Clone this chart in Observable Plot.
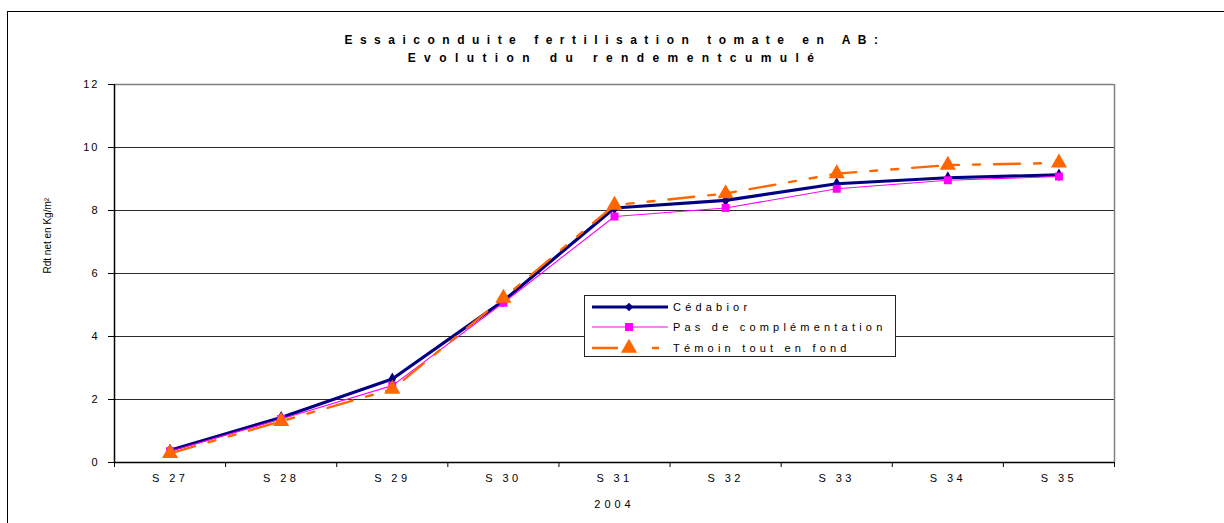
<!DOCTYPE html>
<html>
<head>
<meta charset="utf-8">
<script src="https://cdn.jsdelivr.net/npm/d3@7"></script>
<script src="https://cdn.jsdelivr.net/npm/@observablehq/plot@0.6"></script>
<style>
  html, body { margin: 0; padding: 0; background: #fff; }
  #wrap { position: relative; width: 1224px; height: 523px; overflow: hidden; font-family: "Liberation Sans", Arial, sans-serif; }
  #border { position: absolute; left: 7px; top: 11px; width: 1260px; height: 560px; border: 1.5px solid #000; box-sizing: border-box; }
  .title { position: absolute; left: 0; width: 1230px; text-align: center; font-weight: bold; font-size: 12px; color: #000; white-space: nowrap; }
  #legend { position: absolute; left: 584px; top: 295px; width: 312px; height: 62px; border: 1px solid #222; box-sizing: border-box; background: #fff; }
  .lrow { position: absolute; left: 7px; height: 20px; display: flex; align-items: center; white-space: nowrap; }
  .lrow span { font-size: 11px; letter-spacing: 4.2px; margin-left: 5px; color: #000; white-space: nowrap; }
  svg.plot text { font-family: "Liberation Sans", Arial, sans-serif; }
  g[aria-label="y-axis tick label"] text { letter-spacing: 2px; }
  g[aria-label="x-axis tick label"] text { letter-spacing: 3.4px; }
</style>
</head>
<body>
<div id="wrap">
  <div id="border"></div>
  <div id="chart"></div>
  <div class="title" id="t1" style="top:33px; letter-spacing:7.5px"></div>
  <div class="title" id="t2" style="top:51px; letter-spacing:8.4px"></div>
  <div id="legend"></div>
</div>
<script>
const titleLines = ["Essaiconduite fertilisation tomate en AB:", "Evolution du rendementcumulé"];
const categories = ["S 27", "S 28", "S 29", "S 30", "S 31", "S 32", "S 33", "S 34", "S 35"];
const seriesNames = ["Cédabior", "Pas de complémentation", "Témoin tout en fond"];
const cedabior = [0.39, 1.43, 2.65, 5.13, 8.08, 8.32, 8.85, 9.04, 9.13];
const pasCompl = [0.36, 1.38, 2.44, 5.07, 7.81, 8.08, 8.69, 8.96, 9.08];
const temoin   = [0.29, 1.31, 2.33, 5.22, 8.17, 8.54, 9.17, 9.44, 9.51];
const yTicks = [0, 2, 4, 6, 8, 10, 12];
const yLabel = "Rdt net en Kg/m²";
const xLabel = "2004";

document.getElementById("t1").textContent = titleLines[0];
document.getElementById("t2").textContent = titleLines[1];

const styles = [
  {color: "#000080", width: 3.2, dash: null, symbol: "diamond", r: 3.9},
  {color: "#FF00FF", width: 1.1, dash: null, symbol: "square", r: 4.5},
  {color: "#FF6600", width: 2.4, dash: "26,14,7,14,7,14", symbol: "triangle", r: 6}
];
const allSeries = [cedabior, pasCompl, temoin];
const rows = allSeries.map((vals, s) => vals.map((v, i) => ({x: i + 0.5, y: v, cat: categories[i], s})));

const marks = [
  Plot.ruleY(yTicks.filter(d => d > 0 && d < 12), {stroke: "#2a2a2a", strokeWidth: 1}),
  Plot.ruleY([12], {stroke: "#808080", strokeWidth: 1.5}),
  Plot.ruleX([9], {stroke: "#808080", strokeWidth: 1.5}),
  Plot.ruleX([0], {stroke: "#000", strokeWidth: 1.5}),
  Plot.ruleY([0], {stroke: "#000", strokeWidth: 1.5}),
  Plot.axisY({ticks: yTicks, tickSize: 6, tickPadding: 9, fontSize: 11, stroke: "#000", label: null}),
  Plot.axisX({ticks: d3.range(categories.length + 1), tickSize: 5, tickFormat: () => "", stroke: "#000", label: null}),
  Plot.axisX({ticks: categories.map((c, i) => i + 0.5), tickSize: 0, tickPadding: 12, fontSize: 11, tickFormat: d => categories[Math.round(d - 0.5)], label: null}),
  Plot.text([xLabel], {frameAnchor: "bottom", dy: 45, fontSize: 11, fill: "#000"}),
  Plot.text([yLabel], {frameAnchor: "left", rotate: -90, dx: -67, fontSize: 10, fill: "#000"})
];
rows.forEach((data, s) => {
  const st = styles[s];
  marks.push(Plot.line(data, {x: "x", y: "y", stroke: st.color, strokeWidth: st.width, strokeDasharray: st.dash, strokeLinejoin: "miter"}));
  marks.push(Plot.dot(data, {x: "x", y: "y", symbol: () => st.symbol, fill: st.color, stroke: "none", r: st.r}));
});

const chart = Plot.plot({
  width: 1224,
  height: 523,
  marginLeft: 114,
  marginRight: 110,
  marginTop: 84,
  marginBottom: 61,
  style: {background: "transparent", fontFamily: "Liberation Sans, Arial, sans-serif", color: "#000"},
  x: {type: "linear", domain: [0, categories.length], axis: null},
  y: {type: "linear", domain: [0, 12], axis: null},
  marks
});
chart.classList.add("plot");
d3.select(chart).selectAll("text").filter(function() { return this.textContent === xLabel; })
  .style("letter-spacing", "4px");
document.getElementById("chart").appendChild(chart);

// Legend
const legend = document.getElementById("legend");
const symbolPaths = {diamond: d3.symbolDiamond2, square: d3.symbolSquare, triangle: d3.symbolTriangle};
seriesNames.forEach((name, s) => {
  const st = styles[s];
  const row = document.createElement("div");
  row.className = "lrow";
  row.style.top = (0.5 + s * 20.5) + "px";
  const sw = d3.create("svg").attr("width", 76).attr("height", 20);
  sw.append("line").attr("x1", 0).attr("x2", 76).attr("y1", 10).attr("y2", 10)
    .attr("stroke", st.color).attr("stroke-width", st.width)
    .attr("stroke-dasharray", st.dash ? "26,14,0,20,7,10" : null);
  sw.append("path").attr("transform", "translate(37,10)")
    .attr("d", d3.symbol(symbolPaths[st.symbol], Math.PI * st.r * st.r)())
    .attr("fill", st.color);
  row.appendChild(sw.node());
  const t = document.createElement("span");
  t.textContent = name;
  row.appendChild(t);
  legend.appendChild(row);
});
</script>
</body>
</html>
